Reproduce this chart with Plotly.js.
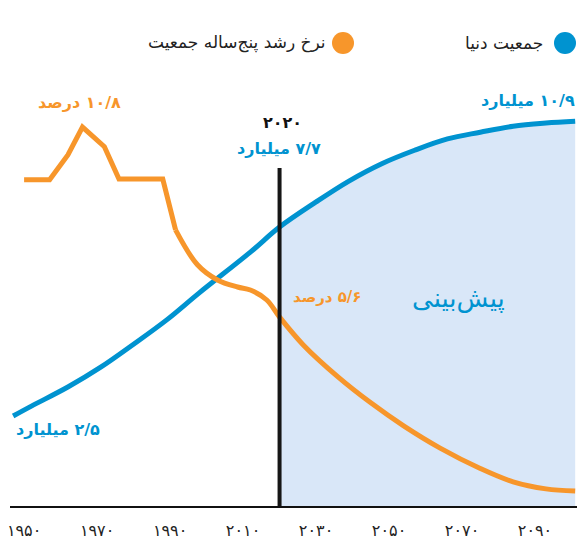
<!DOCTYPE html>
<html>
<head>
<meta charset="utf-8">
<script src="https://cdn.plot.ly/plotly-3.0.1.min.js"></script>
<style>
  html, body { margin: 0; padding: 0; background: #fff; }
  #chart { width: 577px; height: 544px; }
</style>
</head>
<body>
<div id="chart"></div>
<script>
// Data
const popYears = [1947, 1952, 1962, 1971, 1980, 1989, 1998, 2012, 2020, 2030, 2039, 2048, 2057, 2066, 2075, 2084, 2093, 2101];
const popBillions = [2.57, 2.85, 3.39, 3.95, 4.60, 5.28, 6.05, 7.20, 7.91, 8.62, 9.21, 9.70, 10.08, 10.40, 10.59, 10.76, 10.85, 10.90];

const rateYears = [1950, 1957, 1962, 1966, 1972, 1976, 1988, 1991.5, 1997.5, 2003, 2008.5, 2012, 2016.5, 2020, 2026.5, 2036, 2045, 2054, 2064, 2075, 2084, 2093, 2101];
const ratePct = [9.33, 9.33, 10.0, 10.75, 10.22, 9.35, 9.35, 7.98, 7.04, 6.63, 6.44, 6.36, 6.09, 5.63, 4.88, 4.02, 3.32, 2.70, 2.10, 1.55, 1.19, 1.00, 0.94];
const stepEnd = 7; // last index of the jagged early part

const tickYears = [1950, 1970, 1990, 2010, 2030, 2050, 2070, 2090];
const tickText = ['۱۹۵۰', '۱۹۷۰', '۱۹۹۰', '۲۰۱۰', '۲۰۳۰', '۲۰۵۰', '۲۰۷۰', '۲۰۹۰'];
const forecastStart = 2020;

const BLUE = '#0093d0';
const ORANGE = '#f7962b';
const FILL = '#d9e7f8';
const FONT = 'DejaVu Sans, sans-serif';
const RLM = '\u200F';

// pixel helpers for annotations (plot area: x 0..577, y 100..507)
const W = 577, TOP = 100, BASE = 507;
const px = x => x / W;
const py = y => (BASE - y) / (BASE - TOP);

const fcYears = [], fcVals = [];
popYears.forEach((yr, i) => { if (yr >= forecastStart) { fcYears.push(yr); fcVals.push(popBillions[i]); } });

const traces = [
  {
    x: fcYears, y: fcVals, type: 'scatter', mode: 'lines',
    line: { width: 0, shape: 'spline' }, fill: 'tozeroy', fillcolor: FILL,
    hoverinfo: 'skip', showlegend: false
  },
  {
    x: popYears, y: popBillions, type: 'scatter', mode: 'lines',
    line: { color: BLUE, width: 5, shape: 'spline' }, showlegend: false
  },
  {
    x: rateYears.slice(0, stepEnd + 1), y: ratePct.slice(0, stepEnd + 1),
    type: 'scatter', mode: 'lines', yaxis: 'y2',
    line: { color: ORANGE, width: 5, shape: 'linear' }, showlegend: false
  },
  {
    x: rateYears.slice(stepEnd), y: ratePct.slice(stepEnd),
    type: 'scatter', mode: 'lines', yaxis: 'y2',
    line: { color: ORANGE, width: 5, shape: 'spline' }, showlegend: false
  }
];

function ann(text, x, y, color, size, bold) {
  return {
    text: bold ? '<b>' + text + '</b>' : text,
    xref: 'paper', yref: 'paper', x: px(x), y: py(y),
    xanchor: 'center', yanchor: 'middle', showarrow: false,
    font: { family: FONT, size: size, color: color }
  };
}

const layout = {
  width: 577, height: 544,
  margin: { l: 0, r: 0, t: TOP, b: 544 - BASE },
  paper_bgcolor: '#fff', plot_bgcolor: '#fff',
  showlegend: false,
  xaxis: {
    range: [1943.4, 2101.5], showgrid: false, zeroline: false, showline: false,
    tickvals: tickYears, ticktext: tickText, ticks: '',
    tickfont: { family: FONT, size: 16, color: '#222' }, ticklabelstandoff: 12
  },
  yaxis: { range: [0, 11.5], visible: false },
  yaxis2: { range: [0.512, 11.48], overlaying: 'y', visible: false },
  shapes: [
    { type: 'line', xref: 'x', yref: 'paper', x0: forecastStart, x1: forecastStart, y0: 0, y1: py(168),
      line: { color: '#161616', width: 4 }, layer: 'above' },
    { type: 'line', xref: 'paper', yref: 'paper', x0: px(10), x1: 1, y0: 0, y1: 0,
      line: { color: '#111', width: 2 }, layer: 'above' },
    { type: 'circle', xref: 'paper', yref: 'paper', x0: px(554), x1: px(576), y0: py(32), y1: py(54),
      fillcolor: BLUE, line: { width: 0 } },
    { type: 'circle', xref: 'paper', yref: 'paper', x0: px(332), x1: px(354), y0: py(32), y1: py(54),
      fillcolor: ORANGE, line: { width: 0 } }
  ],
  annotations: [
    ann('جمعیت دنیا', 504, 43, '#222', 17, false),
    ann('نرخ رشد پنج‌ساله جمعیت', 237, 43, '#222', 17, false),
    ann(RLM + '۱۰/۸ درصد', 79, 102, ORANGE, 16, true),
    ann('۲۰۲۰', 282, 122, '#111', 16, true),
    ann(RLM + '۷/۷ میلیارد', 279, 148, BLUE, 16, true),
    ann(RLM + '۱۰/۹ میلیارد', 528, 101, BLUE, 16, true),
    ann(RLM + '۲/۵ میلیارد', 58, 429, BLUE, 16, true),
    ann(RLM + '۵/۶ درصد', 327, 297, ORANGE, 15, true),
    ann('پیش‌بینی', 458, 298, BLUE, 26, false)
  ]
};

Plotly.newPlot('chart', traces, layout, { displayModeBar: false, staticPlot: true });
</script>
</body>
</html>
